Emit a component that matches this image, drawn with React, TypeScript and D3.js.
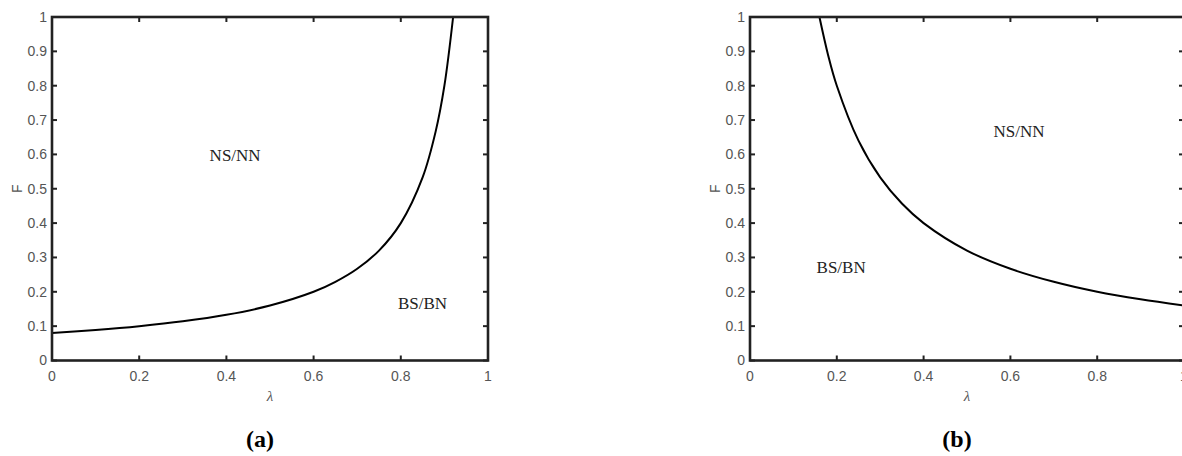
import React from 'react';
import * as d3 from 'd3';

// left panel (a): boundary curve F(λ)
const lambdaA = [0, 0.1, 0.2, 0.3, 0.4, 0.5, 0.6, 0.65, 0.7, 0.75, 0.8, 0.85, 0.88, 0.9, 0.92];
const fA = [0.08, 0.089, 0.1, 0.114, 0.133, 0.16, 0.2, 0.229, 0.267, 0.32, 0.4, 0.533, 0.667, 0.8, 1.0];

// right panel (b): boundary curve F(λ)
const lambdaB = [0.16, 0.18, 0.2, 0.25, 0.3, 0.35, 0.4, 0.5, 0.6, 0.7, 0.8, 0.9, 1.0];
const fB = [1.0, 0.889, 0.8, 0.64, 0.533, 0.457, 0.4, 0.32, 0.267, 0.229, 0.2, 0.178, 0.16];

const xTicks = [0, 0.2, 0.4, 0.6, 0.8, 1];
const yTicks = [0, 0.1, 0.2, 0.3, 0.4, 0.5, 0.6, 0.7, 0.8, 0.9, 1];

const regionsA = [
  { text: 'NS/NN', lam: 0.42, f: 0.58 },
  { text: 'BS/BN', lam: 0.85, f: 0.15 },
];
const regionsB = [
  { text: 'NS/NN', lam: 0.62, f: 0.65 },
  { text: 'BS/BN', lam: 0.21, f: 0.255 },
];

const fmt = (v: number) => (v === 0 || v === 1 ? String(v) : String(+v.toFixed(1)));

function Panel({ x0, x1, lam, f, regions, caption, capX }: any) {
  const top = 17, bottom = 360.5;
  const x = d3.scaleLinear().domain([0, 1]).range([x0, x1]);
  const y = d3.scaleLinear().domain([0, 1]).range([bottom, top]);
  const pts: [number, number][] = lam.map((l: number, i: number) => [l, f[i]]);
  const line = d3.line<[number, number]>()
    .x(d => x(d[0]))
    .y(d => y(d[1]))
    .curve(d3.curveCatmullRom.alpha(0.5));
  const axisColor = '#222';
  const tickColor = '#555';
  const tl = 5;
  return (
    <g>
      <path d={line(pts) || ''} fill="none" stroke="#000" strokeWidth={2} />
      {xTicks.map(t => (
        <g key={'x' + t}>
          <line x1={x(t)} x2={x(t)} y1={bottom} y2={bottom - tl} stroke={axisColor} strokeWidth={2} />
          <line x1={x(t)} x2={x(t)} y1={top} y2={top + tl} stroke={axisColor} strokeWidth={2} />
          <text x={x(t)} y={381} textAnchor="middle" fontFamily="Liberation Sans, Arial, sans-serif"
            fontSize={14} fill={tickColor}>{fmt(t)}</text>
        </g>
      ))}
      {yTicks.map(t => (
        <g key={'y' + t}>
          <line x1={x0} x2={x0 + tl} y1={y(t)} y2={y(t)} stroke={axisColor} strokeWidth={2} />
          <line x1={x1} x2={x1 - tl} y1={y(t)} y2={y(t)} stroke={axisColor} strokeWidth={2} />
          <text x={x0 - 5} y={y(t)} dy="0.35em" textAnchor="end" fontFamily="Liberation Sans, Arial, sans-serif"
            fontSize={14} fill={tickColor}>{fmt(t)}</text>
        </g>
      ))}
      <rect x={x0} y={top} width={x1 - x0} height={bottom - top} fill="none" stroke={axisColor} strokeWidth={2.6} />
      {regions.map((r: any) => (
        <text key={r.text} x={x(r.lam)} y={y(r.f)} textAnchor="middle" fontFamily="Liberation Serif, serif"
          fontSize={17} fill="#222">{r.text}</text>
      ))}
      <text x={(x0 + x1) / 2} y={401} textAnchor="middle" fontFamily="Liberation Serif, serif"
        fontStyle="italic" fontSize={15} fill={tickColor}>λ</text>
      <text transform={`translate(${x0 - 35},${(top + bottom) / 2}) rotate(-90)`} textAnchor="middle"
        dy="0.35em" fontFamily="Liberation Sans, Arial, sans-serif" fontSize={14} fill={tickColor}>F</text>
      <text x={capX} y={447} textAnchor="middle" fontFamily="Liberation Serif, serif" fontWeight="bold"
        fontSize={24} fill="#000">({caption})</text>
    </g>
  );
}

export default function App() {
  return (
    <svg width={1182} height={456} style={{ position: 'absolute', left: 0, top: 0, background: '#fff' }}>
      <Panel x0={52} x1={488} lam={lambdaA} f={fA} regions={regionsA} caption="a" capX={260} />
      <Panel x0={750} x1={1184} lam={lambdaB} f={fB} regions={regionsB} caption="b" capX={957} />
    </svg>
  );
}
